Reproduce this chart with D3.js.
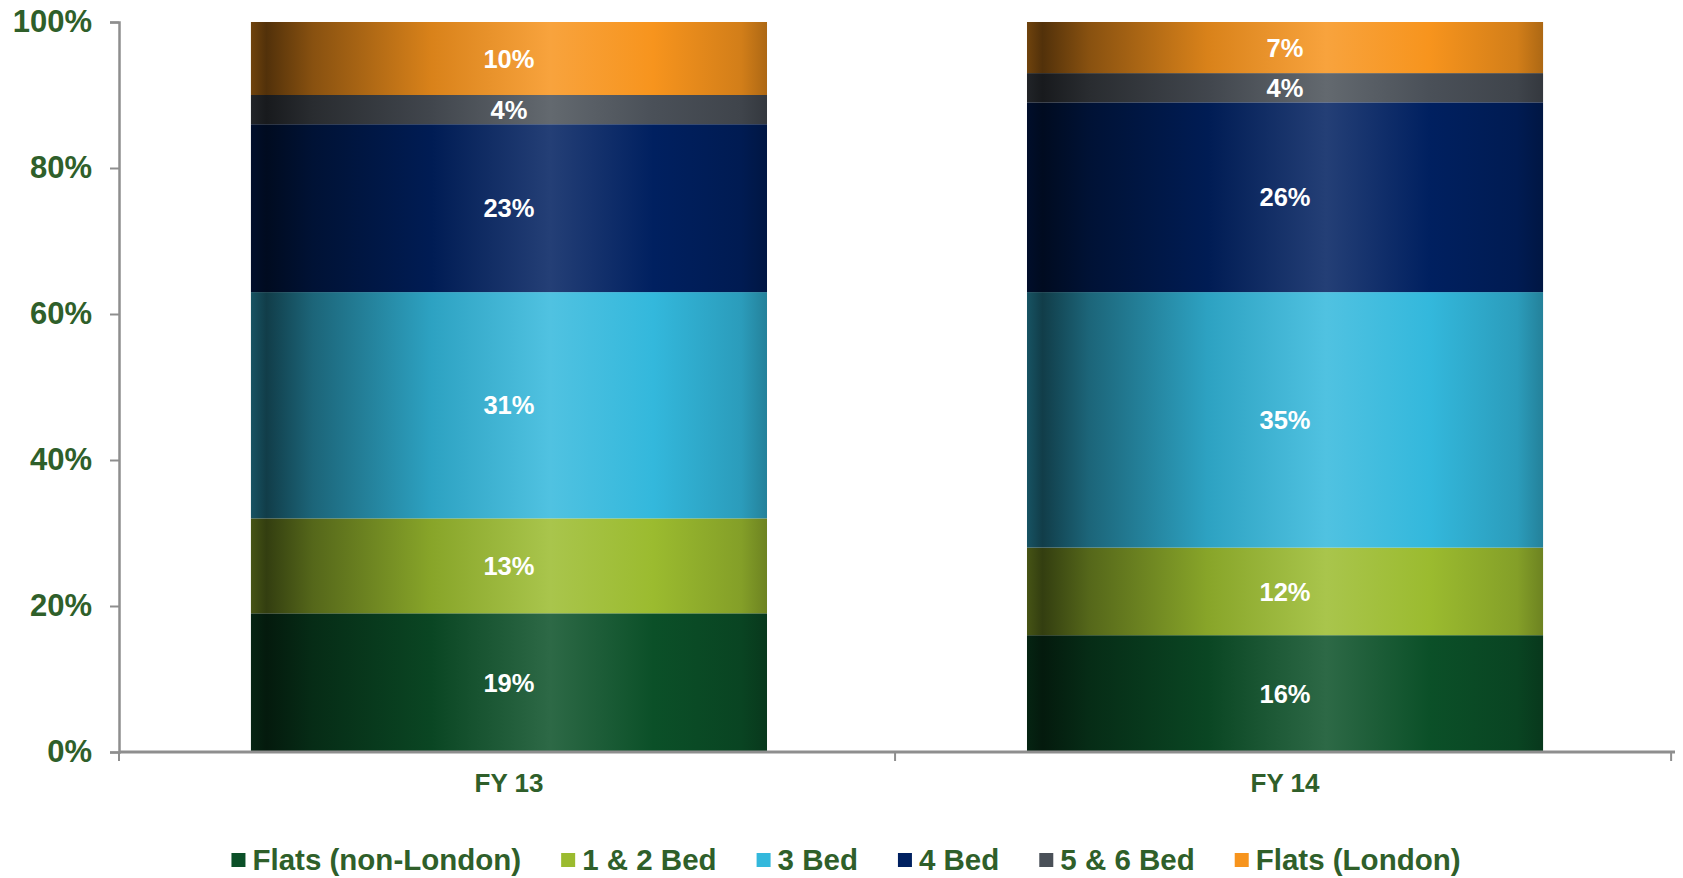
<!doctype html>
<html lang="en">
<head>
<meta charset="utf-8">
<title>Sales mix by house type</title>
<script src="https://d3js.org/d3.v7.min.js"></script>
<style>
  body { margin: 0; padding: 0; background: #fff; }
  svg { display: block; font-family: "Liberation Sans", Arial, sans-serif; font-weight: bold; }
</style>
</head>
<body>
<svg id="chart" width="1683" height="878"></svg>
<script>
// categories and series (share of units, %)
const years = ["FY 13", "FY 14"];
const seriesNames = ["Flats (non-London)", "1 & 2 Bed", "3 Bed", "4 Bed", "5 & 6 Bed", "Flats (London)"];
const fy13 = [19, 13, 31, 23, 4, 10];
const fy14 = [16, 12, 35, 26, 4, 7];
const seriesColors = ["#0b5028", "#9bbb2f", "#33b8dc", "#002060", "#4a5058", "#f7941d"];
const yTicks = [0, 0.2, 0.4, 0.6, 0.8, 1];

const textGreen = "#2f5f2a";
const axisGrey = "#8e8e8e";

const svg = d3.select("#chart");
const plotLeft = 119, plotRight = 1675, plotTop = 22, plotBottom = 752;

const x = d3.scaleBand().domain(years).range([plotLeft, plotRight])
  .paddingInner(0.335).paddingOuter(0.17);
const y = d3.scaleLinear().domain([0, 1]).range([plotBottom, plotTop]);

// build rows for the stack
const rows = years.map((yr, i) => {
  const vals = i === 0 ? fy13 : fy14;
  const r = { year: yr };
  seriesNames.forEach((s, j) => r[s] = vals[j] / 100);
  return r;
});
const stacked = d3.stack().keys(seriesNames)(rows);

// horizontal "cylinder" shading per series
const defs = svg.append("defs");
seriesColors.forEach((c, i) => {
  const dark = t => d3.interpolateRgb("#000", c)(t);
  const light = t => d3.interpolateRgb(c, "#fff")(t);
  const stops = [
    [0, dark(0.45)], [0.03, dark(0.33)], [0.12, dark(0.55)], [0.35, dark(0.88)],
    [0.58, light(0.14)], [0.78, c], [0.95, dark(0.85)], [1, dark(0.7)]
  ];
  const g = defs.append("linearGradient").attr("id", "grad" + i)
    .attr("x1", 0).attr("x2", 1).attr("y1", 0).attr("y2", 0);
  stops.forEach(s => g.append("stop").attr("offset", s[0]).attr("stop-color", s[1]));
});

// bars
const layers = svg.append("g").selectAll("g")
  .data(stacked)
  .join("g")
  .attr("fill", (d, i) => `url(#grad${i})`);

layers.selectAll("rect")
  .data(d => d)
  .join("rect")
  .attr("x", d => x(d.data.year))
  .attr("width", x.bandwidth())
  .attr("y", d => y(d[1]))
  .attr("height", d => y(d[0]) - y(d[1]));

// value labels
layers.selectAll("text")
  .data(d => d.map(v => ({ v, key: d.key })))
  .join("text")
  .attr("x", d => x(d.v.data.year) + x.bandwidth() / 2)
  .attr("y", d => (y(d.v[0]) + y(d.v[1])) / 2)
  .attr("dy", "0.36em")
  .attr("text-anchor", "middle")
  .attr("fill", "#fff")
  .attr("font-size", 25.5)
  .text(d => d3.format(".0%")(d.v.data[d.key]));

// y axis
const yAxis = svg.append("g")
  .attr("transform", `translate(${plotLeft},0)`)
  .call(d3.axisLeft(y).tickValues(yTicks).tickFormat(d3.format(".0%")).tickSize(9).tickPadding(18));
yAxis.select(".domain").attr("stroke", axisGrey).attr("stroke-width", 2.5);
yAxis.selectAll(".tick line").attr("stroke", axisGrey).attr("stroke-width", 2);
yAxis.selectAll(".tick text")
  .attr("fill", textGreen).attr("font-size", 31).attr("font-weight", "bold")
  .attr("font-family", "'Liberation Sans', Arial, sans-serif");

// x axis: line plus category boundary ticks
const xAxis = svg.append("g").attr("transform", `translate(0,${plotBottom})`);
xAxis.append("line")
  .attr("x1", plotLeft).attr("x2", plotRight)
  .attr("stroke", axisGrey).attr("stroke-width", 3);
const bounds = [plotLeft].concat(years.map(yr => x(yr) - x.step() * x.paddingOuter() + x.step()));
xAxis.selectAll("line.tk")
  .data(bounds)
  .join("line")
  .attr("class", "tk")
  .attr("x1", d => d).attr("x2", d => d)
  .attr("y1", 0).attr("y2", 9)
  .attr("stroke", axisGrey).attr("stroke-width", 2);
xAxis.selectAll("text")
  .data(years)
  .join("text")
  .attr("x", d => x(d) + x.bandwidth() / 2)
  .attr("y", 40)
  .attr("text-anchor", "middle")
  .attr("fill", textGreen)
  .attr("font-size", 26)
  .text(d => d);

// legend
const legend = svg.append("g");
const items = legend.selectAll("g")
  .data(seriesNames)
  .join("g");
items.append("rect")
  .attr("width", 14).attr("height", 14)
  .attr("y", -14)
  .attr("fill", (d, i) => seriesColors[i]);
items.append("text")
  .attr("x", 21)
  .attr("y", 0)
  .attr("dy", 3)
  .attr("fill", textGreen)
  .attr("font-size", 29.5)
  .text(d => d);

let cx = 0;
items.each(function () {
  const w = 21 + d3.select(this).select("text").node().getComputedTextLength();
  d3.select(this).attr("transform", `translate(${cx},0)`);
  cx += w + 40;
});
const total = cx - 40;
legend.attr("transform", `translate(${846 - total / 2},867)`);
</script>
</body>
</html>
